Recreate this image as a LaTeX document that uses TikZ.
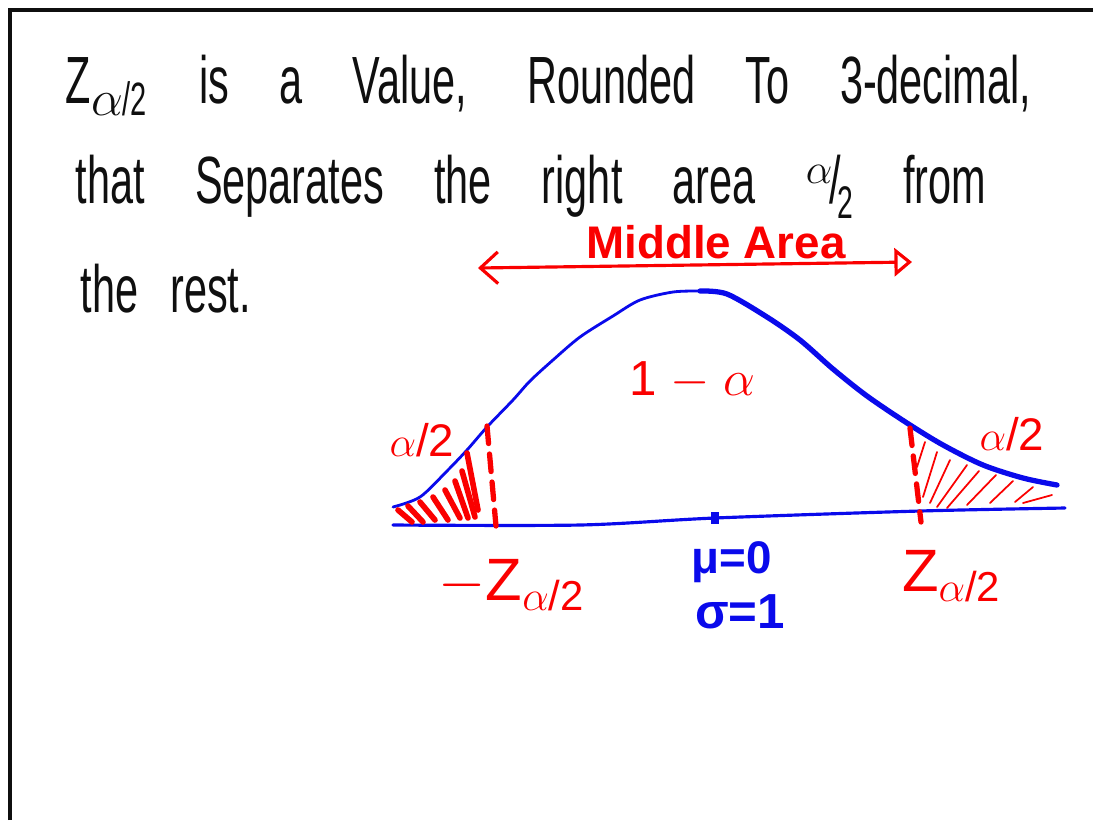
\documentclass[tikz,border=0pt]{standalone}
\usepackage{fontspec}
\usepackage{graphicx}
\setmainfont{Liberation Sans}
\newfontfamily\handfont[FakeStretch=0.62]{Liberation Sans}
\usetikzlibrary{arrows.meta}
\definecolor{inkred}{RGB}{250, 0, 0}
\definecolor{inkblue}{RGB}{10, 10, 235}
\definecolor{inkblack}{RGB}{15, 15, 15}

\begin{document}
\begin{tikzpicture}[
    x=0.01cm, y=-0.01cm,
    handline/.style={inner sep=0pt, anchor=base west, text=inkblack, font=\handfont\fontsize{19}{22}\selectfont},
    redlabel/.style={inner sep=0pt, text=inkred, font=\fontsize{13}{15}\selectfont},
    bluelabel/.style={inner sep=0pt, text=inkblue, font=\bfseries\fontsize{13}{15}\selectfont},
    curveline/.style={inkblue, line join=round, line cap=round},
    cutline/.style={inkred, line width=1.5pt, dash pattern=on 5pt off 3pt, line cap=round},
    hatchthick/.style={inkred, line width=1.6pt, line cap=round},
    hatchthin/.style={inkred, line width=0.5pt, line cap=round},
    arrow/.style={{Straight Barb[length=5pt,width=9pt]}-{Triangle[open,length=5pt,width=8pt]}, inkred, line width=0.9pt}
  ]
  \useasboundingbox (0,0) rectangle (1093,820);

  % Page frame
  \draw[inkblack, line width=0.9pt] (10,820) -- (10,10) -- (1093,10);

  % Text
  \node[handline] (line1) at (65,103) {\makebox[9.65cm][s]{Z\textsubscript{$\alpha$/2} is a Value, Rounded To 3-decimal,}};
  \node[handline] (line2) at (75,203) {\makebox[9.1cm][s]{that Separates the right area \raisebox{0.55ex}{\fontsize{13}{13}\selectfont$\alpha$}\kern-.05em/\kern-.05em\raisebox{-0.45ex}{\fontsize{13}{13}\selectfont 2} from}};
  \node[handline] (line3) at (80,312) {\makebox[1.7cm][s]{the rest.}};

  % Middle area arrow
  \node[redlabel, font=\bfseries\fontsize{13}{15}\selectfont] (middle) at (716,242) {Middle Area};
  \coordinate (arrL) at (478,268);
  \coordinate (arrR) at (912,262);
  \draw[arrow] (arrL) -- (arrR);

  % Bell curve
  \draw[curveline, line width=0.8pt] plot[smooth] coordinates {(393,507) (420,497) (447,471) (467,450) (487,427) (513,400) (530,381) (553,360) (580,337) (613,316) (640,300) (673,292) (700,291)};
  \draw[curveline, line width=1.5pt] plot[smooth] coordinates {(700,291) (727,294) (767,317) (800,340) (833,369) (867,396) (907,423) (943,445) (983,465) (1023,478) (1057,485)};
  \draw[curveline, line width=0.9pt] plot[smooth] coordinates {(393,525) (580,525) (715,518) (920,511) (1065,508)};

  % Mean tick
  \coordinate (tickT) at (715,512);
  \coordinate (tickB) at (715,524);
  \draw[inkblue, line width=2pt] (tickT) -- (tickB);

  % Cut lines
  \coordinate (cutLT) at (487,426);
  \coordinate (cutLB) at (496,526);
  \coordinate (cutRT) at (910,428);
  \coordinate (cutRB) at (921,522);
  \draw[cutline] (cutLT) -- (cutLB);
  \draw[cutline] (cutRT) -- (cutRB);

  % Left tail shading
  \foreach \xa/\ya/\xb/\yb in {398/510/412/522, 408/506/423/522, 420/502/435/520, 433/497/448/520,
      445/490/460/518, 455/481/468/518, 462/471/475/517, 467/453/478/510} {
    \draw[hatchthick] (\xa,\ya) -- (\xb,\yb);
  }

  % Right tail shading
  \foreach \xa/\ya/\xb/\yb in {925/442/917/467, 937/452/923/497, 950/460/930/503, 967/465/937/507,
      979/471/947/508, 996/475/967/505, 1013/481/990/503, 1033/487/1015/502, 1052/495/1023/503} {
    \draw[hatchthin] (\xa,\ya) -- (\xb,\yb);
  }

  % Labels
  \node[redlabel, font=\fontsize{14}{16}\selectfont] (area) at (692,381) {1 $-$ $\alpha$};
  \node[redlabel] (tailL) at (422,440) {$\alpha$/2};
  \node[redlabel] (tailR) at (1012,434) {$\alpha$/2};
  \node[redlabel, font=\fontsize{17}{19}\selectfont] (zneg) at (512,585) {$-$Z\textsubscript{$\alpha$/2}};
  \node[redlabel, font=\fontsize{17}{19}\selectfont] (zpos) at (952,576) {Z\textsubscript{$\alpha$/2}};
  \node[bluelabel] (mu) at (732,562) {μ=0};
  \node[bluelabel, font=\bfseries\fontsize{14}{16}\selectfont] (sigma) at (740,612) {σ=1};
\end{tikzpicture}
\end{document}
